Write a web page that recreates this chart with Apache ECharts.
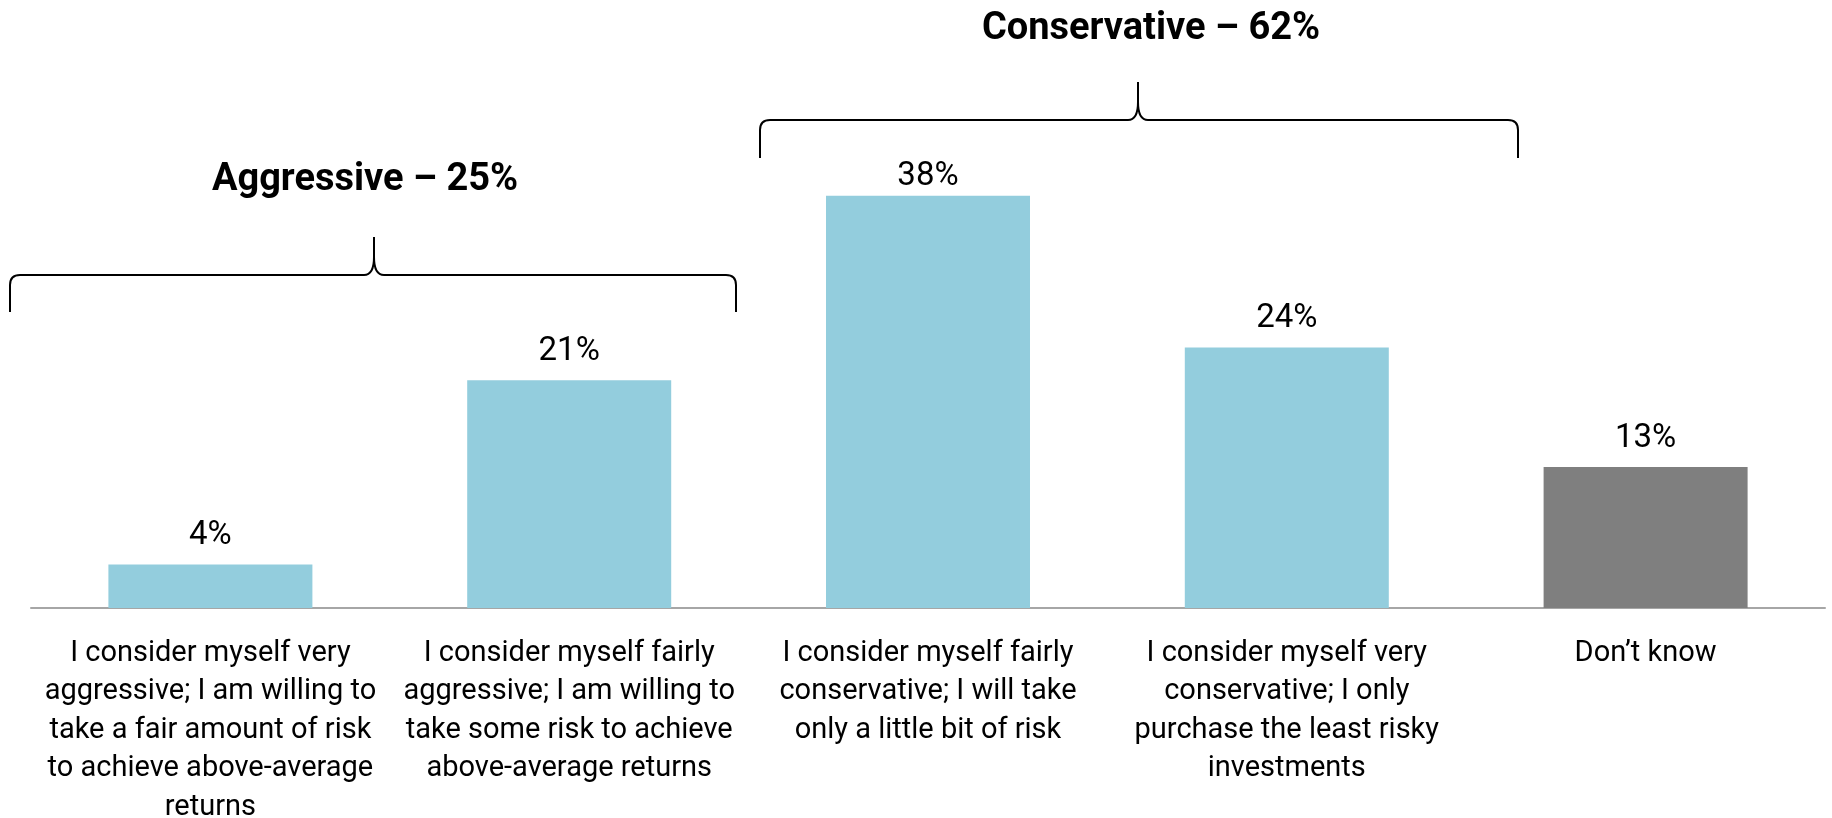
<!DOCTYPE html>
<html>
<head>
<meta charset="utf-8">
<script src="https://cdn.jsdelivr.net/npm/echarts@6/dist/echarts.min.js"></script>
<style>
  html, body { margin: 0; padding: 0; background: #fff; }
  #chart { width: 1832px; height: 818px; }
</style>
</head>
<body>
<div id="chart"></div>
<script>
// categories (line breaks as in the source slide)
const categories = [
  'I consider myself very\naggressive; I am willing to\ntake a fair amount of risk\nto achieve above-average\nreturns',
  'I consider myself fairly\naggressive; I am willing to\ntake some risk to achieve\nabove-average returns',
  'I consider myself fairly\nconservative; I will take\nonly a little bit of risk',
  'I consider myself very\nconservative; I only\npurchase the least risky\ninvestments',
  'Don\u2019t know'
];
const values = [4, 21, 38, 24, 13];
const groupTitles = ['Aggressive \u2013 25%', 'Conservative \u2013 62%'];

const FONT = "Roboto, 'Liberation Sans', sans-serif";
const BLUE = '#93cddd';
const GREY = '#7f7f7f';

const myChart = echarts.init(document.getElementById('chart'));

// curly brace made of lines + quadratic curves
function brace(x1, x2, xm, y, yEnd, yTip) {
  const r = 10;
  const st = { stroke: '#000', lineWidth: 2, fill: null };
  const line = (a, b, c, d) => ({ type: 'line', shape: { x1: a, y1: b, x2: c, y2: d }, style: st, silent: true });
  const curve = (a, b, c, d, cx, cy) => ({ type: 'bezierCurve', shape: { x1: a, y1: b, x2: c, y2: d, cpx1: cx, cpy1: cy }, style: st, silent: true });
  return {
    type: 'group',
    children: [
      line(x1, yEnd, x1, y + r),
      curve(x1, y + r, x1 + r, y, x1, y),
      line(x1 + r, y, xm - r, y),
      curve(xm - r, y, xm, y - 18, xm, y),
      line(xm, y - 18, xm, yTip),
      curve(xm + r, y, xm, y - 18, xm, y),
      line(xm + r, y, x2 - r, y),
      curve(x2 - r, y, x2, y + r, x2, y),
      line(x2, y + r, x2, yEnd)
    ]
  };
}

const option = {
  animation: false,
  grid: {
    left: 31,
    right: 7,
    top: 174,
    bottom: 210,
    containLabel: false,
    outerBoundsMode: 'none'
  },
  xAxis: {
    type: 'category',
    data: categories,
    axisTick: { show: false },
    axisLine: { lineStyle: { color: '#a6a6a6', width: 2 } },
    axisLabel: {
      interval: 0,
      margin: 26,
      color: '#000',
      fontFamily: FONT,
      fontSize: 29,
      lineHeight: 38.6
    }
  },
  yAxis: {
    type: 'value',
    min: 0,
    max: 40,
    show: false,
    splitLine: { show: false }
  },
  series: [{
    type: 'bar',
    barWidth: 204,
    data: values.map((v, i) => ({
      value: v,
      itemStyle: { color: i === values.length - 1 ? GREY : BLUE },
      label: i === 2 ? { distance: 2 } : undefined
    })),
    label: {
      show: true,
      position: 'top',
      distance: 12,
      color: '#000',
      fontFamily: FONT,
      fontSize: 33,
      formatter: p => p.value + '%'
    }
  }],
  graphic: [
    brace(10, 736, 374, 275, 312, 237),
    brace(760, 1518, 1138, 120, 158, 82),
    {
      type: 'text',
      x: 365, y: 180,
      style: {
        text: groupTitles[0],
        fontFamily: FONT, fontSize: 38, fontWeight: 'bold',
        fill: '#000', align: 'center', verticalAlign: 'middle'
      }
    },
    {
      type: 'text',
      x: 1151, y: 29,
      style: {
        text: groupTitles[1],
        fontFamily: FONT, fontSize: 38, fontWeight: 'bold',
        fill: '#000', align: 'center', verticalAlign: 'middle'
      }
    }
  ]
};

myChart.setOption(option);
</script>
</body>
</html>
